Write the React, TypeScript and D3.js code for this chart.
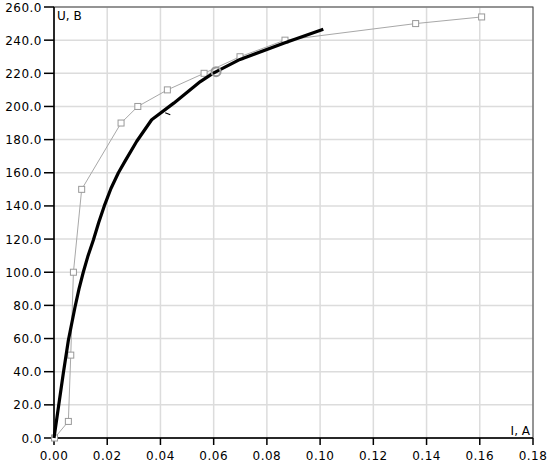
import React from "react";
import * as d3 from "d3";

const xTicks = [0, 0.02, 0.04, 0.06, 0.08, 0.1, 0.12, 0.14, 0.16, 0.18];
const yTicks = [0, 20, 40, 60, 80, 100, 120, 140, 160, 180, 200, 220, 240, 260];

// gray measured series (with square markers)
const grayI = [0.0002, 0.0054, 0.0063, 0.0073, 0.0104, 0.0252, 0.0315, 0.0426, 0.0564, 0.0699, 0.0868, 0.1359, 0.1607];
const grayU = [0, 10, 50, 100, 150, 190, 200, 210, 220, 230, 240, 250, 254];

// black thick curve
const blackI = [0, 0.0017, 0.0035, 0.0054, 0.0079, 0.0094, 0.011, 0.0128, 0.0148, 0.0168, 0.0189, 0.0214, 0.0242, 0.0267, 0.0311, 0.0367, 0.045, 0.055, 0.0597, 0.0699, 0.0868, 0.1012];
const blackU = [0, 19, 39, 59, 79, 90, 100, 110, 119.4, 130, 140, 150.5, 160, 167, 179, 192, 202, 215, 220, 228.4, 238.5, 246.6];

// operating point marker
const opI = [0.0609];
const opU = [221];

// small tail mark
const tailI = [0.0418, 0.0437];
const tailU = [196.2, 195];

const W = 550, H = 465;
const L = 54, R = 533, T = 7, B = 438;

export default function App() {
  const x = d3.scaleLinear().domain([0, 0.18]).range([L, R]);
  const y = d3.scaleLinear().domain([0, 260]).range([B, T]);
  const line = d3.line<[number, number]>().x(d => x(d[0])).y(d => y(d[1]));
  const gray = grayI.map((v, i) => [v, grayU[i]] as [number, number]);
  const black = blackI.map((v, i) => [v, blackU[i]] as [number, number]);
  const tail = tailI.map((v, i) => [v, tailU[i]] as [number, number]);
  const font = "'DejaVu Sans', Tahoma, sans-serif";
  return (
    <svg width={W} height={H} style={{ position: "absolute", left: 0, top: 0, background: "#fff" }}>
      <rect x={0} y={0} width={W} height={H} fill="#fff" />
      {xTicks.slice(1).map(t => (
        <line key={"gx" + t} x1={x(t)} x2={x(t)} y1={T} y2={B} stroke="#dcdcdc" strokeWidth={1.5} />
      ))}
      {yTicks.slice(1).map(t => (
        <line key={"gy" + t} x1={L} x2={R} y1={y(t)} y2={y(t)} stroke="#dcdcdc" strokeWidth={1.5} />
      ))}
      <rect x={L} y={T} width={R - L} height={B - T} fill="none" stroke="#444" strokeWidth={1} />
      <line x1={L} x2={L} y1={T} y2={B + 1} stroke="#000" strokeWidth={1.5} />
      <line x1={L} x2={R} y1={B} y2={B} stroke="#000" strokeWidth={1.5} />
      {yTicks.map(t => (
        <g key={"ty" + t}>
          <line x1={L - 10} x2={L} y1={y(t)} y2={y(t)} stroke="#000" strokeWidth={1.5} />
          <text x={L - 12} y={y(t) + 4.5} textAnchor="end" fontFamily={font} fontSize={12} letterSpacing={0.5} fill="#000">
            {t.toFixed(1)}
          </text>
        </g>
      ))}
      {xTicks.map(t => (
        <g key={"tx" + t}>
          <line x1={x(t)} x2={x(t)} y1={B} y2={B + 7} stroke="#000" strokeWidth={1.5} />
          <text x={x(t)} y={B + 22} textAnchor="middle" fontFamily={font} fontSize={12} letterSpacing={0.5} fill="#000">
            {t.toFixed(2)}
          </text>
        </g>
      ))}
      <text x={L + 3} y={T + 13} fontFamily={font} fontSize={12} fill="#000">U, B</text>
      <text x={R - 3} y={B - 3} textAnchor="end" fontFamily={font} fontSize={12} fill="#000">I, A</text>
      <path d={line(gray) || ""} fill="none" stroke="#a8a8a8" strokeWidth={1} />
      {gray.map((d, i) => (
        <rect key={"m" + i} x={x(d[0]) - 3} y={y(d[1]) - 3} width={6} height={6} fill="#fff" stroke="#999" strokeWidth={1} />
      ))}
      <path d={line(black) || ""} fill="none" stroke="#000" strokeWidth={3.2} strokeLinejoin="round" />
      <path d={line(tail) || ""} fill="none" stroke="#000" strokeWidth={1.2} />
      {opI.map((v, i) => (
        <circle key={"op" + i} cx={x(v)} cy={y(opU[i])} r={4.5} fill="none" stroke="#999" strokeWidth={2} />
      ))}
    </svg>
  );
}
